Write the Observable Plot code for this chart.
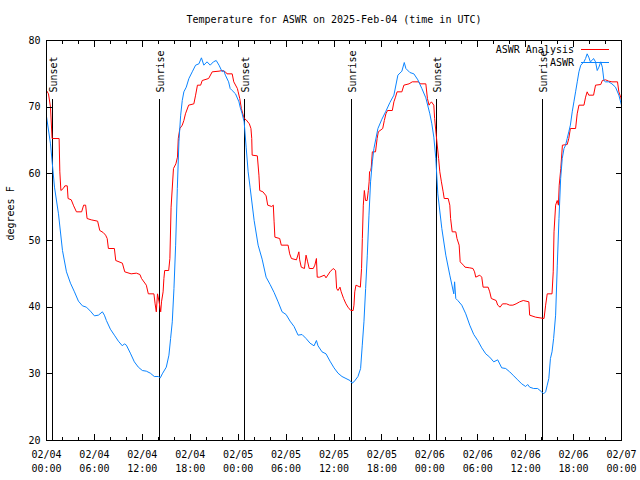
<!DOCTYPE html>
<html><head><meta charset="utf-8">
<script src="https://cdn.jsdelivr.net/npm/d3@7"></script>
<script src="https://cdn.jsdelivr.net/npm/@observablehq/plot@0.6"></script>
<style>body{margin:0;background:#fff}</style>
</head><body><div id="chart"></div>
<script>
const title = "Temperature for ASWR on 2025-Feb-04 (time in UTC)";
const yLabel = "degrees F";
const startTime = "2025-02-04T00:00:00Z";
const endTime = "2025-02-07T00:00:00Z";
const seriesNames = ["ASWR Analysis", "ASWR"];
const seriesColors = ["#ff0000", "#0a84ff"];

// ASWR observations: hours since start, temperature F
const obsHours = [0,0.5,1,1.5,2,2.5,3,3.5,4,4.5,5,5.5,6,6.5,7,7.25,7.5,8,8.5,9,9.5,9.75,10,10.5,11,11.5,12,12.5,13,13.5,14,14.25,14.5,15,15.33,15.54,15.75,15.96,16.17,16.38,16.58,16.8,17,17.2,17.5,17.83,18.25,18.67,19.08,19.4,19.7,20.1,20.5,20.9,21.25,21.6,22,22.2,22.4,22.8,23,23.25,23.67,24.1,24.25,24.5,24.75,25,25.25,25.5,26,26.5,27,27.5,28,28.5,29,29.5,30,30.5,31,31.5,32,32.5,33,33.5,33.8,34,34.5,35,35.5,36,36.5,37,37.5,38,38.25,38.5,39,39.33,39.54,39.75,39.96,40.17,40.38,40.58,40.8,41,41.5,42,42.5,43,43.5,44,44.5,44.8,45,45.5,46,46.5,47,47.5,48,48.25,48.5,48.75,49,49.5,50,50.5,51,51.1,51.25,51.5,52,52.5,53,53.5,54,54.5,55,55.5,56,56.5,57,57.5,58,58.5,59,59.5,60,60.25,60.5,61,61.5,62,62.25,62.5,62.7,62.9,63.1,63.3,63.5,63.75,63.96,64.17,64.38,64.58,64.8,65,65.2,65.4,65.6,65.83,66.04,66.25,66.46,66.67,66.9,67.3,67.5,67.7,67.9,68.1,68.3,68.5,68.75,68.96,69.17,69.4,69.6,69.8,70,70.4,70.8,71.25,71.67,72];
const obsTemps = [68.6,64.5,58,54,48.5,45.3,43.6,42.3,40.9,40.2,40,39.4,38.7,38.8,39.3,38.8,38,36.7,35.8,34.9,34.2,34.5,34.3,33.1,31.8,31,30.5,30.4,30.1,29.6,29.6,29.4,30,31,32.8,35.3,37.8,42.8,49.3,57.8,64.8,68.8,71,72.3,73,74.3,75.3,76.3,76.5,77.4,76.3,76.8,76.3,76.8,77,76.3,75.3,75.5,74.8,73.8,72.8,72.5,72,70.8,70,69,67.8,64,60.3,57.9,53,49.3,47.2,44.5,43.4,42.2,40.8,39.3,38.9,37.9,37.1,35.8,35.9,35.3,34.6,34.2,35,34.2,33.3,33,31.9,30.9,30.1,29.6,29.3,29,28.6,28.8,29.6,30.8,34.3,37.8,42.8,47.8,53.8,58.8,61.8,63.8,66.8,68.2,69.4,70.7,71.8,74.8,75.4,76.7,75.8,75.2,75,74.1,72.8,71.4,69,67.5,65.5,62.3,57,51.8,47.8,44.8,42,43.8,41.3,41,40.3,39,37.3,35.9,35,33.9,33,32.5,31.8,32.1,30.9,30.8,30.3,29.7,29.1,28.5,28.1,28.4,28,27.8,27.8,27.3,27,27.3,28.3,29.3,32.3,33.3,35.3,38.8,46.3,53.3,59.3,62.3,63.8,64.3,65.3,66.3,67.3,69.3,70.8,72.3,73.8,75.3,76.3,76.8,77.3,78,77.5,76.8,77,77.3,76.8,75.5,76,76.8,76,74,73.8,73.8,73.5,73,71.8,70.3];

// ASWR Analysis: hours since start, temperature F
const anaHours = [0,0.25,0.5,0.7,1.58,1.67,1.8,2.1,2.3,2.6,2.7,3.1,3.4,3.75,4.4,4.65,4.9,5.08,5.6,6.4,6.67,7.1,7.4,7.6,7.75,8.5,8.67,9.5,9.8,10.6,11.25,11.7,11.9,12.5,12.75,13.45,13.6,13.75,13.9,14.1,14.3,14.4,14.6,14.7,14.8,15.3,15.45,15.6,15.9,16.2,16.4,16.5,16.7,17,17.2,17.4,17.8,18.45,18.67,18.9,19.3,19.5,20.3,20.75,21.6,22,22.4,22.6,23.25,23.45,23.9,24,24.2,24.4,24.75,25,25.4,25.6,25.7,25.75,26.4,26.6,26.7,27.1,27.5,27.7,28.2,28.4,28.5,28.6,29.2,29.4,30.25,30.45,30.67,31.3,31.6,31.7,31.9,32.3,32.5,32.7,32.9,33.4,33.6,33.8,33.9,34.2,34.8,35,35.5,35.9,36.2,36.33,36.5,36.75,36.9,37.2,37.5,37.75,38.1,38.4,38.5,38.6,38.75,39.3,39.45,39.55,39.67,39.8,39.95,40.15,40.3,40.4,40.45,40.6,40.67,40.8,41.2,41.4,41.55,42.1,42.3,42.5,42.7,43.3,43.5,43.7,43.9,44.5,44.75,45.4,45.8,46.6,46.8,47.5,47.7,47.9,48,48.2,48.5,48.6,48.8,49.1,49.25,49.45,49.67,49.8,50.3,50.5,50.6,50.8,51.25,51.4,51.67,51.8,52.2,52.4,53,53.4,53.6,53.75,54.25,54.5,54.67,55.3,55.5,55.7,56.3,56.5,56.8,57.1,57.6,58,58.4,58.8,59.25,59.7,60.4,60.5,61.25,62.3,62.5,62.7,63.3,63.45,63.55,63.75,63.95,64.1,64.2,64.4,64.6,65.2,65.4,65.6,66.25,66.45,66.67,67.3,67.5,67.7,67.9,68.5,68.75,69.4,69.6,70,70.4,70.8,71.5,71.67,71.9,72];
const anaTemps = [72.5,72,70,65.3,65.3,60.3,57.5,57.8,58.2,58.2,56.3,56.1,55.2,54.3,54.3,55.3,55.3,53.3,53.1,52.9,51.5,51.2,50.8,50.3,48.8,48.8,47,46.6,45.3,45,45.1,44.9,44.3,43.3,42,42,40.5,39.3,42,40.8,39.3,40.8,42.3,44.3,45.5,45.5,47.3,55,60.8,61.5,62.5,65.3,66.8,67.3,68,69,70.3,70.5,71.8,73.3,73.3,74,74.3,75.3,75.4,75.5,75.3,75,75,73.8,72.8,72.3,71.3,69.8,68.3,68.1,67.5,66.8,65.3,62.8,62.7,59.8,57.5,57.3,56.7,55.3,55.1,55.3,52.8,50.5,50.3,49.3,49.3,48,47.3,47.1,48.3,47.1,46,45.8,47.8,46.8,45.8,45.8,46.3,47.3,44.5,44.5,44.8,44.4,45.3,45.8,45.5,42.8,42.5,43,42.3,41.3,40.5,40,39.5,39.5,40.3,42.3,43.3,43,45.8,50.3,55.3,57.5,56,56,57.5,58.8,60.3,60.5,61,63.3,63.3,65.3,66.3,66.8,68,69,69.5,69.5,70.8,71.5,72.3,72.3,73.3,73.5,73.8,73.8,73.5,73.5,71.3,70.3,70.5,70.8,70.3,68.3,65.8,62.3,60.3,58.8,57.3,56.3,56.3,55.3,53.3,51.3,51.3,50.3,49.3,46.8,46.3,46,45.9,45.8,45.3,44.5,44.8,44.5,43,43,42.3,41.3,41,40.3,40,40.5,40.5,40.3,40.3,40.5,40.8,41,40.8,38.8,38.5,38.3,40.3,42,42,45.3,51.3,55.3,56,55.3,58.3,60.8,64.3,64.4,65.3,66.8,66.8,69,70.3,70.3,71.5,72.3,71.8,71.8,73.3,73.4,74,74.1,73.9,73.8,73.8,72.3,71.5,71];

const eventLabels = ["Sunset", "Sunrise", "Sunset", "Sunrise", "Sunset", "Sunrise"];
const eventTimes = ["2025-02-04T00:48Z", "2025-02-04T14:12Z", "2025-02-05T00:49Z", "2025-02-05T14:11Z", "2025-02-06T00:50Z", "2025-02-06T14:10Z"];

const xTickTimes = ["2025-02-04T00:00Z","2025-02-04T06:00Z","2025-02-04T12:00Z","2025-02-04T18:00Z","2025-02-05T00:00Z","2025-02-05T06:00Z","2025-02-05T12:00Z","2025-02-05T18:00Z","2025-02-06T00:00Z","2025-02-06T06:00Z","2025-02-06T12:00Z","2025-02-06T18:00Z","2025-02-07T00:00Z"];
const yTicks = [20, 30, 40, 50, 60, 70, 80];

const t0 = new Date(startTime);
const toDate = h => new Date(+t0 + h * 3600e3);
const obs = obsHours.map((h, i) => ({time: toDate(h), temp: obsTemps[i]}));
const ana = anaHours.map((h, i) => ({time: toDate(h), temp: anaTemps[i]}));
const events = eventTimes.map((t, i) => ({time: new Date(t), label: eventLabels[i]}));
const xMajor = xTickTimes.map(t => new Date(t));
const xMinor = d3.utcHour.every(2).range(new Date(startTime), new Date(+new Date(endTime) + 1));
const fmt = d3.utcFormat("%m/%d\n%H:%M");
const blank = () => "";

const W = 640, H = 480, mL = 46, mR = 19, mT = 40, mB = 40;

const plot = Plot.plot({
  width: W, height: H,
  marginLeft: mL, marginRight: mR, marginTop: mT, marginBottom: mB,
  style: {fontFamily: "DejaVu Sans Mono", fontSize: "10px", background: "white", color: "black"},
  x: {type: "utc", domain: [new Date(startTime), new Date(endTime)], label: null},
  y: {domain: [20, 80], label: null},
  marks: [
    Plot.ruleX(events, {x: "time", y1: 20, y2: 71.1, stroke: "black", strokeWidth: 1, shapeRendering: "crispEdges"}),
    Plot.text(events, {x: "time", y: 72.2, text: "label", rotate: -90, textAnchor: "start", dx: 1, fill: "black"}),
    Plot.line(ana, {x: "time", y: "temp", stroke: seriesColors[0], strokeWidth: 1}),
    Plot.line(obs, {x: "time", y: "temp", stroke: seriesColors[1], strokeWidth: 1}),
    Plot.frame({stroke: "black", shapeRendering: "crispEdges"}),
    Plot.axisX(xMinor, {anchor: "bottom", tickSize: -3, tickFormat: blank, shapeRendering: "crispEdges"}),
    Plot.axisX(xMinor, {anchor: "top", tickSize: -3, tickFormat: blank, shapeRendering: "crispEdges"}),
    Plot.axisX(xMajor, {anchor: "bottom", tickSize: -6, tickFormat: blank, shapeRendering: "crispEdges"}),
    Plot.axisX(xMajor, {anchor: "top", tickSize: -6, tickFormat: blank, shapeRendering: "crispEdges"}),
    Plot.axisX(xMajor, {anchor: "bottom", tickSize: 0, tickPadding: 8, tickFormat: fmt, lineHeight: 1.4, fill: "black"}),
    Plot.axisY(yTicks, {anchor: "left", tickSize: -6, tickFormat: blank, shapeRendering: "crispEdges"}),
    Plot.axisY(yTicks, {anchor: "right", tickSize: -6, tickFormat: blank, shapeRendering: "crispEdges"}),
    Plot.axisY(yTicks, {anchor: "left", tickSize: 0, tickPadding: 6, fill: "black"}),
    Plot.text([title], {text: d => d, frameAnchor: "top", lineAnchor: "middle", dy: -21, fill: "black"}),
    Plot.text([yLabel], {text: d => d, frameAnchor: "left", rotate: -90, dx: -36, fill: "black"})
  ]
});

// legend (top-right inside the frame)
const svg = d3.select(plot);
const right = W - mR;
const lg = svg.append("g").attr("font-family", "DejaVu Sans Mono").attr("font-size", 10);
seriesNames.forEach((name, i) => {
  const y = mT + 9.5 + i * 13;
  lg.append("text").attr("x", right - 47).attr("y", y).attr("dy", "0.35em")
    .attr("text-anchor", "end").attr("fill", "black").text(name);
  lg.append("line").attr("x1", right - 40).attr("x2", right - 12)
    .attr("y1", y).attr("y2", y).attr("stroke", seriesColors[i]).attr("stroke-width", 1);
});

document.getElementById("chart").appendChild(plot);
</script>
</body></html>
